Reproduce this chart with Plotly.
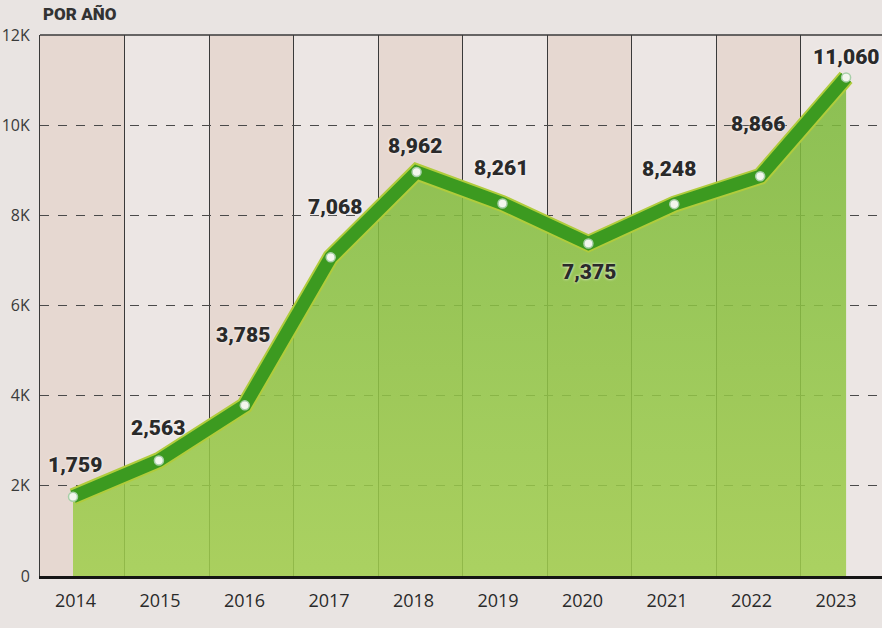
import plotly.graph_objects as go

years = [2014, 2015, 2016, 2017, 2018, 2019, 2020, 2021, 2022, 2023]
values = [1759, 2563, 3785, 7068, 8962, 8261, 7375, 8248, 8866, 11060]
value_labels = ["1,759", "2,563", "3,785", "7,068", "8,962", "8,261", "7,375", "8,248", "8,866", "11,060"]
y_tickvals = [0, 2000, 4000, 6000, 8000, 10000, 12000]
y_ticktext = ["0", "2K", "4K", "6K", "8K", "10K", "12K"]
title_text = "POR AÑO"

# label offsets (pixels) relative to each point
label_dx = [2, -1, -2, 4, -2, -2, 1, -5, -2, 0]
label_dy = [32, 32, 70, 50, 26, 36, -28, 35, 52, 20]

W, H = 882, 628
ml, mr, mt, mb = 40, 0, 35, 52
plot_w = W - ml - mr
col_w = 84.5
x_scale = 85.9
x0 = 2014 - 33 / x_scale
x1 = x0 + plot_w / x_scale

fig = go.Figure()

# fill under the line (slightly transparent so the grid shows through)
fig.add_trace(go.Scatter(
    x=years, y=values, mode="none", fill="tozeroy",
    fillgradient=dict(type="vertical", start=0, stop=11060,
                      colorscale=[[0, "rgba(160,206,76,0.86)"], [1, "rgba(124,185,60,0.86)"]]),
    hoverinfo="skip", showlegend=False))

# yellowish halo under the line
fig.add_trace(go.Scatter(
    x=years, y=values, mode="lines",
    line=dict(color="#b0cc3c", width=17),
    hoverinfo="skip", showlegend=False))

# main line with markers
fig.add_trace(go.Scatter(
    x=years, y=values, mode="lines+markers",
    line=dict(color="#3c9a20", width=13),
    marker=dict(size=9, color="#f3f6ee", line=dict(color="#a7cfa8", width=1.5)),
    showlegend=False))

# invisible trace on the grid/label axis
fig.add_trace(go.Scatter(x=[0.5], y=[0], xaxis="x2", mode="markers",
                         marker=dict(opacity=0), hoverinfo="skip", showlegend=False))

n_cols = len(years)
shapes = []
for k in range(n_cols):
    if k % 2 == 0:
        shapes.append(dict(type="rect", xref="x2", yref="paper",
                           x0=k, x1=k + 1, y0=0, y1=1,
                           fillcolor="#e6d8d1", line=dict(width=0), layer="below"))
shapes.append(dict(type="line", xref="paper", yref="paper", x0=0, x1=1, y0=1, y1=1,
                   line=dict(color="#3a3a3a", width=1.5)))

annotations = []
for yr, v, t, dx, dy in zip(years, values, value_labels, label_dx, label_dy):
    annotations.append(dict(
        x=yr, y=v, xref="x", yref="y", text=t, showarrow=False,
        xshift=dx, yshift=dy, xanchor="center", yanchor="middle",
        font=dict(family="Roboto", size=21, color="#2a2a2a", weight=900,
                  shadow="0px 0px 3px #ffffff")))
annotations.append(dict(
    x=0, y=1 + (mt - 14) / (H - mt - mb), xref="paper", yref="paper",
    xshift=1, text=title_text, showarrow=False,
    xanchor="left", yanchor="middle",
    font=dict(family="Roboto", size=17, color="#333333", weight=900)))

fig.update_layout(
    width=W, height=H,
    margin=dict(l=ml, r=mr, t=mt, b=mb, pad=0),
    paper_bgcolor="#e9e4e2",
    plot_bgcolor="#ece6e4",
    shapes=shapes,
    annotations=annotations,
    hovermode=False,
    xaxis=dict(range=[x0, x1], showticklabels=False, showgrid=False,
               zeroline=False, showline=True, linecolor="#151515", linewidth=2.5,
               fixedrange=True),
    xaxis2=dict(range=[0, plot_w / col_w], overlaying="x", side="bottom", anchor="y",
                tickvals=[k + 0.42 for k in range(n_cols)],
                ticktext=[str(y) for y in years],
                showgrid=False, zeroline=False, ticks="",
                ticklabelstandoff=12, fixedrange=True,
                tickfont=dict(family="Open Sans", size=18, color="#2a2a2a"),
                minor=dict(tickvals=list(range(1, n_cols)), showgrid=True,
                           gridcolor="#3a3a3a", gridwidth=1, ticks="")),
    yaxis=dict(range=[0, 12000], tickvals=y_tickvals, ticktext=y_ticktext,
               showgrid=True, gridcolor="#4a4a4a", gridwidth=1, griddash="dash",
               zeroline=False, showline=True, linecolor="#3a3a3a", linewidth=1,
               ticks="", ticklabelstandoff=6,
               tickfont=dict(family="Open Sans", size=16, color="#3a3a3a"),
               fixedrange=True),
    font=dict(family="Open Sans"),
)

fig.write_html("out.html", config={"displayModeBar": False},
               post_script="document.body.style.margin='0px';")
